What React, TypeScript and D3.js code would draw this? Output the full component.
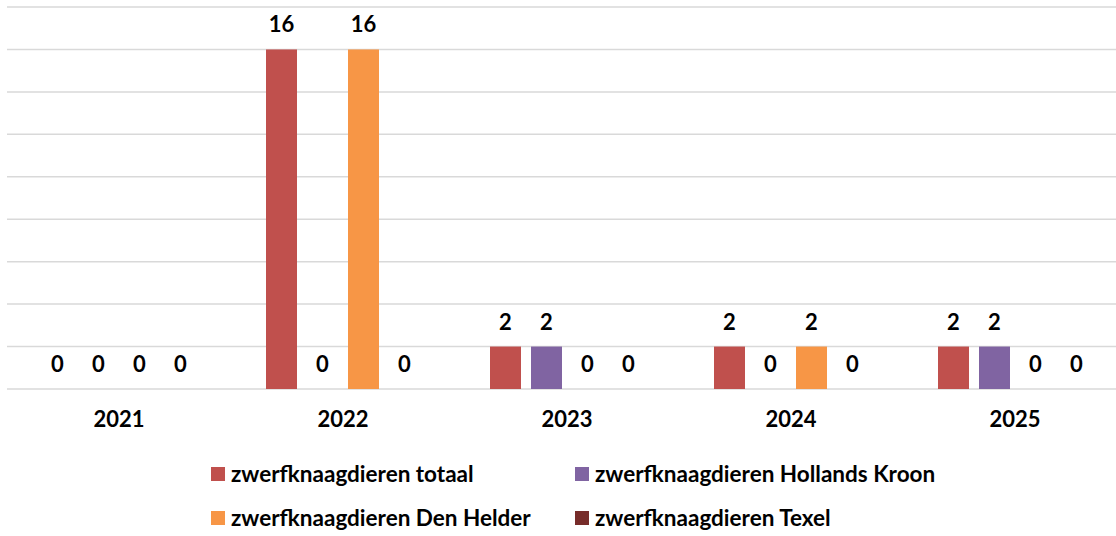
import React, { useEffect, useRef } from 'react';
import * as d3 from 'd3';

const years = ['2021', '2022', '2023', '2024', '2025'];
const seriesNames = [
  'zwerfknaagdieren totaal',
  'zwerfknaagdieren Hollands Kroon',
  'zwerfknaagdieren Den Helder',
  'zwerfknaagdieren Texel',
];
const totaal = [0, 16, 2, 2, 2];
const hollandsKroon = [0, 0, 2, 0, 2];
const denHelder = [0, 16, 0, 2, 0];
const texel = [0, 0, 0, 0, 0];
const colors = ['#C0504D', '#8064A2', '#F79646', '#772C2A'];
const yTicks = [0, 2, 4, 6, 8, 10, 12, 14, 16, 18];

const App = () => {
  const ref = useRef<SVGSVGElement>(null);

  useEffect(() => {
    const width = 1116;
    const font = 'Lato, "Open Sans", sans-serif';
    const values = [totaal, hollandsKroon, denHelder, texel];

    const svg = d3.select(ref.current);
    svg.selectAll('*').remove();

    // group scale runs a bit past the right edge, like the original
    const x = d3.scaleBand().domain(years).range([7, 1127]).padding(0);
    const inner = d3.scaleBand()
      .domain(seriesNames)
      .range([-82, 82])
      .paddingInner(0.244)
      .paddingOuter(0.122);
    const y = d3.scaleLinear().domain([0, 18]).range([389, 7]);

    // gridlines
    svg.append('g')
      .selectAll('line')
      .data(yTicks)
      .join('line')
      .attr('x1', 7)
      .attr('x2', width)
      .attr('y1', d => y(d))
      .attr('y2', d => y(d))
      .attr('stroke', '#D9D9D9')
      .attr('stroke-width', 1.5);

    // bars + labels per series
    seriesNames.forEach((name, si) => {
      const g = svg.append('g');
      const rows = years.map((yr, i) => ({ yr, v: values[si][i] }));
      g.selectAll('rect')
        .data(rows.filter(d => d.v > 0))
        .join('rect')
        .attr('x', d => x(d.yr)! + x.bandwidth() / 2 + inner(name)!)
        .attr('y', d => y(d.v))
        .attr('width', inner.bandwidth())
        .attr('height', d => y(0) - y(d.v))
        .attr('fill', colors[si]);
      g.selectAll('text')
        .data(rows)
        .join('text')
        .attr('x', d => x(d.yr)! + x.bandwidth() / 2 + inner(name)! + inner.bandwidth() / 2)
        .attr('y', d => y(d.v) - 17)
        .attr('text-anchor', 'middle')
        .attr('font-family', font)
        .attr('font-weight', 700)
        .attr('font-size', 22)
        .attr('fill', '#000')
        .text(d => d.v);
    });

    // category labels
    svg.append('g')
      .selectAll('text')
      .data(years)
      .join('text')
      .attr('x', d => x(d)! + x.bandwidth() / 2)
      .attr('y', 427)
      .attr('text-anchor', 'middle')
      .attr('font-family', font)
      .attr('font-weight', 700)
      .attr('font-size', 22)
      .text(d => d);

    // legend, 2 x 2
    const legendPos = [[211, 482], [575, 482], [211, 526], [575, 526]];
    const legend = svg.append('g')
      .selectAll('g')
      .data(seriesNames)
      .join('g')
      .attr('transform', (d, i) => `translate(${legendPos[i][0]},${legendPos[i][1]})`);
    legend.append('rect')
      .attr('x', 0)
      .attr('y', -15)
      .attr('width', 14)
      .attr('height', 14)
      .attr('fill', (d, i) => colors[i]);
    legend.append('text')
      .attr('x', 20)
      .attr('y', 0)
      .attr('font-family', font)
      .attr('font-weight', 700)
      .attr('font-size', 22.5)
      .text(d => d);
  }, []);

  return (
    <svg
      ref={ref}
      width={1116}
      height={536}
      style={{ position: 'absolute', left: 0, top: 0, background: '#fff' }}
    />
  );
};

export default App;
